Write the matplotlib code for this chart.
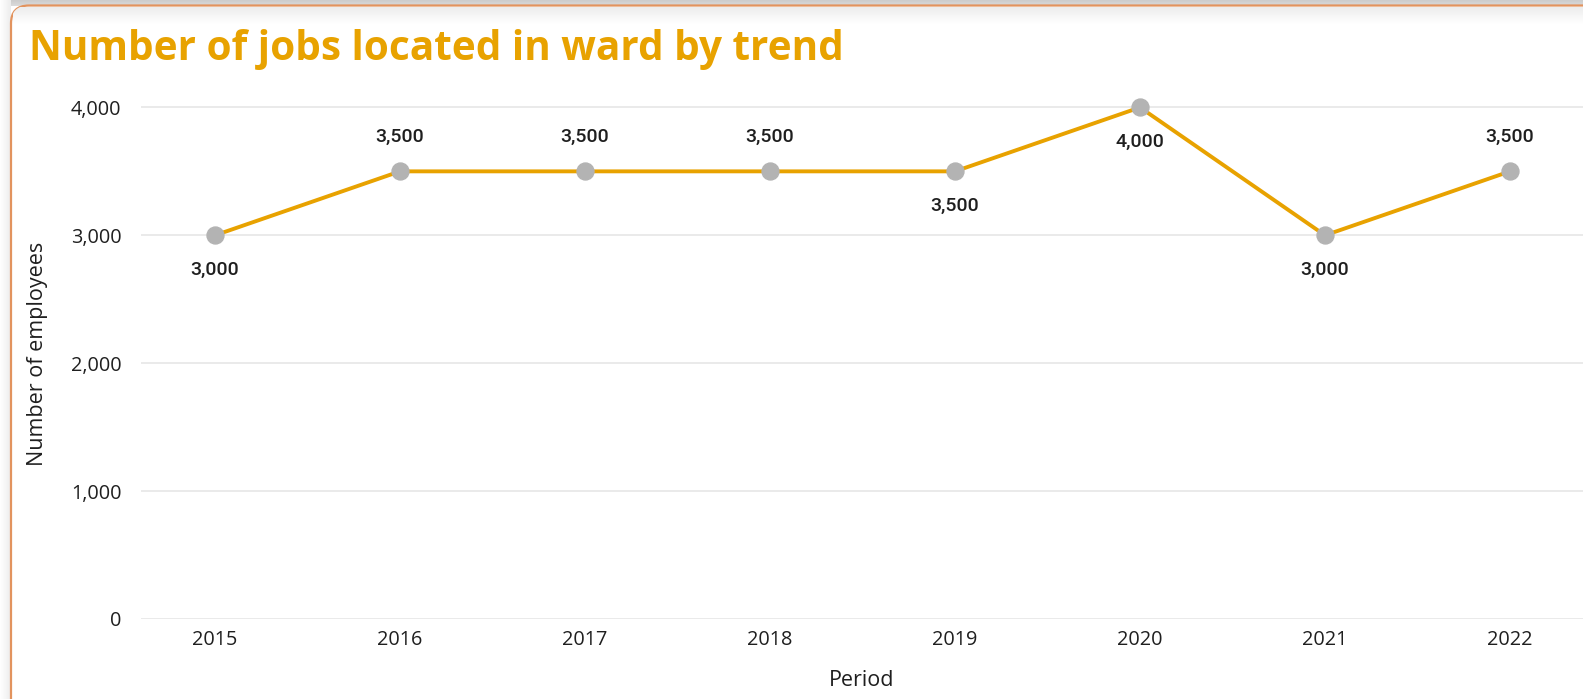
import numpy as np
import matplotlib
matplotlib.use("Agg")
import matplotlib.pyplot as plt
from matplotlib.patches import FancyBboxPatch
from matplotlib.ticker import FuncFormatter

# Data
periods = ["2015", "2016", "2017", "2018", "2019", "2020", "2021", "2022"]
employees = [3000, 3500, 3500, 3500, 3500, 4000, 3000, 3500]
label_side = ["below", "above", "above", "above", "below", "below", "below", "above"]
y_ticks = [0, 1000, 2000, 3000, 4000]

TITLE = "Number of jobs located in ward by trend"
X_TITLE = "Period"
Y_TITLE = "Number of employees"

W, H, DPI = 1583, 699, 100
fig = plt.figure(figsize=(W / DPI, H / DPI), dpi=DPI)
fig.patch.set_facecolor("white")

# Background layer in pixel coordinates (origin top-left)
bg = fig.add_axes([0, 0, 1, 1], zorder=0)
bg.set_xlim(0, W)
bg.set_ylim(H, 0)
bg.axis("off")

# drop shadow around the card
top_grad = np.linspace(0.80, 0.86, 20).reshape(-1, 1)
bg.imshow(np.dstack([top_grad] * 3), extent=(0, W, 6, 0), aspect="auto", zorder=0)
left_grad = np.linspace(0.93, 1.0, 20).reshape(1, -1)[:, ::-1]
bg.imshow(np.dstack([left_grad] * 3), extent=(0, 11, H, 0), aspect="auto", zorder=0)

card = FancyBboxPatch((11, 5.5), W + 40, H + 40,
                      boxstyle="round,pad=0,rounding_size=18",
                      facecolor="white", edgecolor="#E2935E", linewidth=1.6, zorder=1)
bg.add_patch(card)
inner = np.linspace(0.93, 1.0, 20).reshape(-1, 1)
img = bg.imshow(np.dstack([inner] * 3), extent=(13, W, 24, 7), aspect="auto", zorder=1.5)
img.set_clip_path(card)

# Title
fig.text(29 / W, 1 - 49 / H, TITLE, fontfamily="Open Sans", fontweight="bold",
         fontsize=29.2, color="#E8A200", ha="left", va="center")

# Main plot area
ax_left, ax_right = 141, W
y0_px, px_per_k = 619, 127.9
ymax = 4200
top_px = y0_px - ymax / 1000 * px_per_k
ax = fig.add_axes([ax_left / W, 1 - y0_px / H, (ax_right - ax_left) / W,
                   (y0_px - top_px) / H], zorder=2)
ax.patch.set_alpha(0)

x = np.arange(len(periods))
ax.plot(x, employees, color="#E8A200", linewidth=2.8, zorder=3, solid_capstyle="round")
ax.plot(x, employees, linestyle="none", marker="o", markersize=12.2,
        markerfacecolor="#B3B3B3", markeredgecolor="#B3B3B3", zorder=4, clip_on=False)

for xi, yi, side in zip(x, employees, label_side):
    dy = 24.5 if side == "above" else -25
    ax.annotate(f"{yi:,}", (xi, yi), xytext=(0, dy), textcoords="offset points",
                ha="center", va="center", fontfamily="Roboto", fontweight="medium",
                fontsize=14, color="#1F1F1F", zorder=5)

spacing = 185
ax.set_xlim((ax_left - 215) / spacing, (ax_right - 215) / spacing)
ax.set_ylim(0, ymax)
ax.set_xticks(x)
ax.set_xticklabels(periods)
ax.set_yticks(y_ticks)
ax.yaxis.set_major_formatter(FuncFormatter(lambda v, p: f"{int(v):,}"))
ax.grid(axis="y", color="#E6E6E6", linewidth=1.2)
ax.set_axisbelow(True)
for s in ax.spines.values():
    s.set_visible(False)
ax.tick_params(axis="both", length=0, labelsize=14.3, labelcolor="#1F1F1F")
ax.tick_params(axis="y", pad=14)
ax.tick_params(axis="x", pad=8)
for lab in ax.get_xticklabels() + ax.get_yticklabels():
    lab.set_fontfamily("Open Sans")

fig.text(862 / W, 1 - 680 / H, X_TITLE, fontfamily="Open Sans", fontsize=15.5,
         color="#1F1F1F", ha="center", va="center")
fig.text(38 / W, 1 - 354 / H, Y_TITLE, fontfamily="Open Sans", fontsize=15.5,
         color="#1F1F1F", ha="center", va="center", rotation=90)

fig.savefig("out.png", dpi=DPI)
